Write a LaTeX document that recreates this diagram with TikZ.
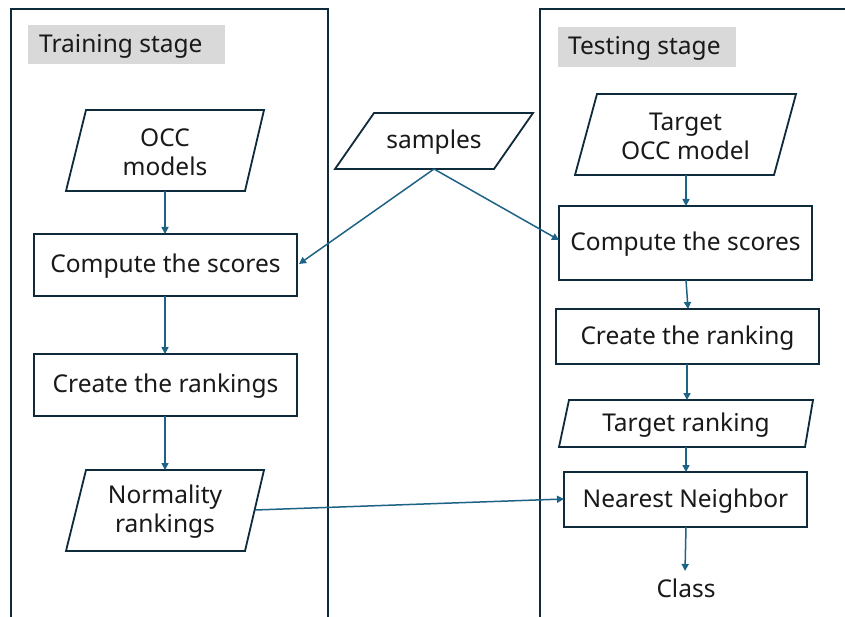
\documentclass[tikz,border=0pt]{standalone}
\usepackage{fontspec}
\setmainfont{Noto Sans}
\usetikzlibrary{arrows.meta}
\definecolor{frame}{HTML}{0E2A3B}
\definecolor{arrowc}{HTML}{1D6385}
\definecolor{labelgray}{HTML}{D9D9D9}
\begin{document}
\begin{tikzpicture}[x=1pt,y=-1pt,
  box/.style={draw=frame,line width=1.8pt,fill=white},
  txt/.style={font=\fontsize{24.5}{29}\selectfont,align=center,text=black!90,inner sep=0pt,yshift=-1.5pt},
  conn/.style={draw=arrowc,line width=1.5pt,-{Triangle[length=7pt,width=7pt]}}]
\useasboundingbox (0,0) rectangle (845,617);
% frames
\draw[frame,line width=2pt] (11,640) -- (11,9) -- (328,9) -- (328,640);
\draw[frame,line width=2pt] (540,640) -- (540,9) -- (860,9);
% stage labels
\fill[labelgray] (28,25) rectangle (225,64);
\node[txt,anchor=west] (trs) at (39,44.5) {Training stage};
\fill[labelgray] (558,27) rectangle (736,67);
\node[txt,anchor=west] (tes) at (568,47) {Testing stage};
% left column
\draw[box] (86,110) -- (264,110) -- (245,191) -- (66,191) -- cycle;
\node[txt] (occ) at (165,150.5) {OCC\\models};
\draw[box] (34,234) rectangle (297,296);
\node[txt] (cs1) at (165.5,265) {Compute the scores};
\draw[box] (34,354) rectangle (297,416);
\node[txt] (cr1) at (165.5,385) {Create the rankings};
\draw[box] (86,470) -- (264,470) -- (245,551) -- (66,551) -- cycle;
\node[txt] (nr) at (165,510.5) {Normality\\rankings};
% samples
\draw[box] (374,113) -- (533,113) -- (494,169) -- (335,169) -- cycle;
\node[txt] (smp) at (434,141) {samples};
% right column
\draw[box] (597,94) -- (796,94) -- (774,175) -- (575,175) -- cycle;
\node[txt] (tocc) at (685.5,134.5) {Target\\OCC model};
\draw[box] (559,206) rectangle (812,280);
\node[txt] (cs2) at (685.5,243) {Compute the scores};
\draw[box] (556,309) rectangle (819,364);
\node[txt] (cr2) at (687.5,336.5) {Create the ranking};
\draw[box] (569,400) -- (813,400) -- (805,447) -- (559,447) -- cycle;
\node[txt] (tr) at (686,423.5) {Target ranking};
\draw[box] (564,472) rectangle (807,527);
\node[txt] (nn) at (685.5,499.5) {Nearest Neighbor};
\node[txt] (cls) at (686,587) {Class};
% coordinates for connectors
\coordinate (occB) at (165,191);
\coordinate (cs1T) at (165,234);
\coordinate (cs1B) at (165,296);
\coordinate (cr1T) at (165,354);
\coordinate (cr1B) at (165,416);
\coordinate (nrT) at (165,470);
\coordinate (nrR) at (255,510);
\coordinate (smpB) at (434,169);
\coordinate (cs1R) at (299,264);
\coordinate (cs2L) at (559,240);
\coordinate (toccB) at (686,175);
\coordinate (cs2T) at (686,206);
\coordinate (cs2B) at (686,280);
\coordinate (cr2T) at (688,309);
\coordinate (cr2B) at (687,364);
\coordinate (trT) at (687,400);
\coordinate (trB) at (686,447);
\coordinate (nnT) at (686,472);
\coordinate (nnL) at (564,499);
\coordinate (nnB) at (686,527);
\coordinate (clsT) at (685,571);
% connectors
\draw[conn] (occB) -- (cs1T);
\draw[conn] (cs1B) -- (cr1T);
\draw[conn] (cr1B) -- (nrT);
\draw[conn] (smpB) -- (cs1R);
\draw[conn] (smpB) -- (cs2L);
\draw[conn] (nrR) -- (nnL);
\draw[conn] (toccB) -- (cs2T);
\draw[conn] (cs2B) -- (cr2T);
\draw[conn] (cr2B) -- (trT);
\draw[conn] (trB) -- (nnT);
\draw[conn] (nnB) -- (clsT);
\end{tikzpicture}
\end{document}
